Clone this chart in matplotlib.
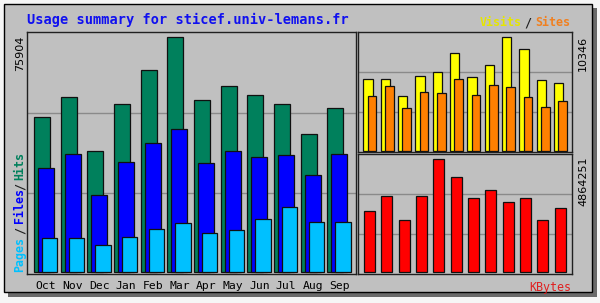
import numpy as np
import matplotlib
matplotlib.use("Agg")
import matplotlib.pyplot as plt
from matplotlib.patches import Rectangle, Polygon

months = ["Oct", "Nov", "Dec", "Jan", "Feb", "Mar", "Apr", "May", "Jun", "Jul", "Aug", "Sep"]
hits = [50030, 56500, 39130, 54230, 65430, 75904, 55720, 60150, 57240, 54230, 44530, 53040]
files = [33630, 38160, 24900, 35570, 41820, 46250, 35250, 39130, 37190, 37840, 31370, 38160]
pages = [11000, 11000, 8730, 11320, 13910, 15850, 12610, 13580, 17140, 21020, 16170, 16170]
visits = [6541, 6541, 4963, 6843, 7180, 8886, 6751, 7819, 10346, 9278, 6450, 6149]
sites = [4963, 5903, 3896, 5383, 5292, 6541, 5082, 6021, 5812, 4872, 4014, 4562]
kbytes = [2631700, 3288600, 2245300, 3288600, 4864251, 4078600, 3177000, 3520400,
          3031000, 3177000, 2245300, 2773400]

title = "Usage summary for sticef.univ-lemans.fr"

HIT_C = "#00805c"
FILE_C = "#0000ff"
PAGE_C = "#00c0ff"
VISIT_C = "#ffff00"
SITE_C = "#ff8000"
KB_C = "#ff0000"
BG = "#c0c0c0"
GRID = "#8a8a8a"

W, H = 600, 303
fig = plt.figure(figsize=(6, 3.03), dpi=100)
fig.patch.set_facecolor("#f6f6f6")


def box(x0, y0, x1, y1):
    return [x0 / W, 1 - y1 / H, (x1 - x0) / W, (y1 - y0) / H]


# background / frame in pixel coordinates
bg = fig.add_axes([0, 0, 1, 1])
bg.set_xlim(0, W)
bg.set_ylim(H, 0)
bg.axis("off")
bg.add_patch(Polygon([(592, 8), (597, 8), (597, 297), (8, 297), (8, 292), (592, 292)],
                     closed=True, facecolor="#6a6a6a", edgecolor="none"))
bg.add_patch(Rectangle((4, 4), 588, 288, facecolor=BG, edgecolor="black", linewidth=1.0))

bg.text(27, 20, title, color="#1010f0", fontsize=9.8, fontweight="bold",
        family="DejaVu Sans Mono", ha="left", va="center")

mono = "DejaVu Sans Mono"
# Visits / Sites legend
bg.text(480, 23, "Visits", color="#e6e600", fontsize=8.4, fontweight="bold", family=mono,
        ha="left", va="center")
bg.text(528, 23, "/", color="#202020", fontsize=8.4, fontweight="bold", family=mono,
        ha="center", va="center")
bg.text(535, 23, "Sites", color="#f08020", fontsize=8.4, fontweight="bold", family=mono,
        ha="left", va="center")
# KBytes label
bg.text(571, 287, "KBytes", color="#e02020", fontsize=8.4, family=mono,
        ha="right", va="center")
# Pages / Files / Hits vertical
bg.text(20, 272, "Pages", color=PAGE_C, fontsize=8.4, fontweight="bold", family=mono,
        rotation=90, ha="center", va="bottom")
bg.text(20, 230, "/", color="#202020", fontsize=8.4, fontweight="bold", family=mono,
        rotation=90, ha="center", va="center")
bg.text(20, 223, "Files", color=FILE_C, fontsize=8.4, fontweight="bold", family=mono,
        rotation=90, ha="center", va="bottom")
bg.text(20, 186, "/", color="#202020", fontsize=8.4, fontweight="bold", family=mono,
        rotation=90, ha="center", va="center")
bg.text(20, 180, "Hits", color=HIT_C, fontsize=8.4, fontweight="bold", family=mono,
        rotation=90, ha="center", va="bottom")
# max labels
bg.text(20, 36, str(max(hits)), color="black", fontsize=8, rotation=90,
        ha="center", va="top")
bg.text(583, 36, str(max(visits)), color="black", fontsize=8, rotation=90,
        ha="center", va="top")
bg.text(583, 157, str(max(kbytes)), color="black", fontsize=8, rotation=90,
        ha="center", va="top")


def panel(rect):
    ax = fig.add_axes(box(*rect))
    ax.set_facecolor(BG)
    for s in ax.spines.values():
        s.set_color("#202020")
        s.set_linewidth(1.0)
    for f in (1 / 3, 2 / 3):
        ax.plot([0, 1], [f, f], transform=ax.transAxes, color=GRID, lw=1.0, zorder=0.5)
    ax.set_yticks([])
    return ax


n = len(months)
x = np.arange(n)

# main panel
ax = panel((27, 32, 356, 274))
s = max(hits) / 234.7
ax.set_ylim(-2 * s, 240 * s)
ax.set_xlim(-7 / 26.67, -7 / 26.67 + 329 / 26.67)
kw = dict(align="edge", edgecolor="#101010", linewidth=0.9, zorder=2)
ax.bar(x, hits, 0.6, color=HIT_C, **kw)
ax.bar(x + 0.15, files, 0.6, color=FILE_C, **kw)
ax.bar(x + 0.30, pages, 0.58, color=PAGE_C, **kw)
ax.set_xticks(x + 0.45)
ax.set_xticklabels(months, family=mono, fontsize=8.2)
ax.tick_params(axis="x", length=0, pad=5)

# visits / sites panel
ax2 = panel((358, 32, 572, 152))
s2 = max(visits) / 113.4
ax2.set_ylim(-1.3 * s2, 118.7 * s2)
sp = 17.33
ax2.set_xlim(-5.3 / sp, -5.3 / sp + 214 / sp)
ax2.bar(x, visits, 0.54, color=VISIT_C, **kw)
ax2.bar(x + 0.26, sites, 0.5, color=SITE_C, **kw)
ax2.set_xticks([])

# kbytes panel
ax3 = panel((358, 154, 572, 274))
s3 = max(kbytes) / 113.3
ax3.set_ylim(-1.7 * s3, 118.3 * s3)
ax3.set_xlim(-5.3 / sp, -5.3 / sp + 214 / sp)
ax3.bar(x + 0.04, kbytes, 0.63, color=KB_C, **kw)
ax3.set_xticks([])

fig.savefig("out.png", dpi=100, facecolor=fig.get_facecolor())
